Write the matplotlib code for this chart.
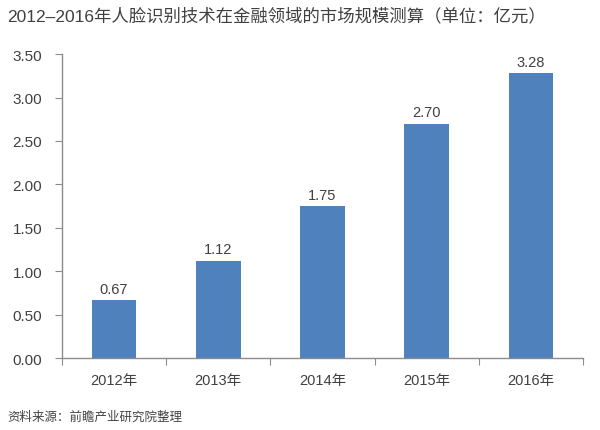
import numpy as np
import matplotlib
matplotlib.use('Agg')
import matplotlib.pyplot as plt

plt.rcParams['font.family'] = ['Liberation Sans', 'Noto Sans CJK SC', 'DejaVu Sans']

years = ['2012年', '2013年', '2014年', '2015年', '2016年']
values = [0.67, 1.12, 1.75, 2.70, 3.28]
yticks = [0.0, 0.5, 1.0, 1.5, 2.0, 2.5, 3.0, 3.5]

BAR = '#4f81bd'
GRAY = '#8c8c8c'
TXT = '#404040'

fig = plt.figure(figsize=(6, 4.31), dpi=100)
ax = fig.add_axes([0.103, 0.167, 0.869, 0.705])

x = np.arange(len(years))
ax.bar(x, values, width=0.43, color=BAR, zorder=2)
for xi, v in zip(x, values):
    ax.text(xi, v + 0.05, f'{v:.2f}', ha='center', va='bottom', fontsize=10.5, color=TXT)

ax.set_xlim(-0.5, len(years) - 0.5)
ax.set_ylim(0, 3.5)
ax.set_yticks(yticks)
ax.set_yticklabels([f'{t:.2f}' for t in yticks])

# ticks sit on the category boundaries, labels in the middle
ax.set_xticks(np.arange(len(years) + 1) - 0.5)
ax.set_xticklabels([])
ax.set_xticks(x, minor=True)
ax.set_xticklabels(years, minor=True)
ax.tick_params(axis='x', which='major', direction='out', length=5, color=GRAY)
ax.tick_params(axis='x', which='minor', length=0, pad=11, labelsize=10.5, labelcolor=TXT)
ax.tick_params(axis='y', direction='out', length=5, color=GRAY, labelsize=11, labelcolor=TXT, pad=9)

for s in ['top', 'right']:
    ax.spines[s].set_visible(False)
for s in ['left', 'bottom']:
    ax.spines[s].set_color(GRAY)
    ax.spines[s].set_linewidth(1)

fig.text(0.012, 0.962, '2012–2016年人脸识别技术在金融领域的市场规模测算（单位：亿元）',
         fontsize=12.5, color=TXT, ha='left', va='center')
fig.text(0.012, 0.03, '资料来源：前瞻产业研究院整理', fontsize=9, color='#444444',
         ha='left', va='center')

fig.savefig('out.png', dpi=100)
